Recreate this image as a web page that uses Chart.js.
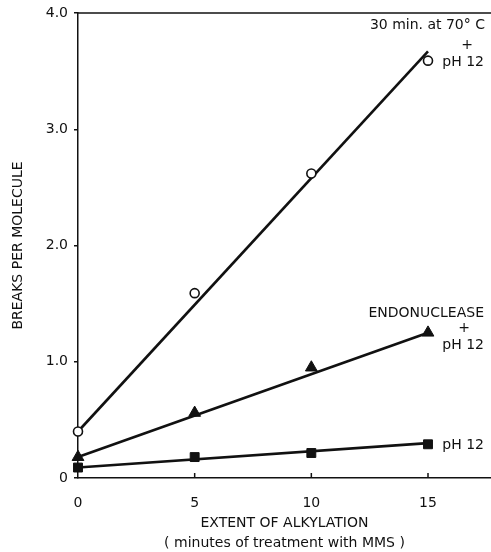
<!DOCTYPE html>
<html>
<head>
    <title>Breaks per molecule vs extent of alkylation</title>
    <script src="https://cdn.jsdelivr.net/npm/chart.js"></script>
    <style>
        html, body { margin: 0; background: #fff; overflow: hidden; }
        #wrap { width: 491px; height: 552px; }
        canvas { display: block; }
    </style>
</head>
<body>
    <div id="wrap"><canvas id="breaksChart" width="491" height="552"></canvas></div>

    <script>
        // minutes of MMS treatment
        const minutes = [0, 5, 10, 15];
        const xTicks = [0, 5, 10, 15];
        const yTicks = [0, 1, 2, 3, 4];
        const yTickLabels = ['0', '1.0', '2.0', '3.0', '4.0'];

        // measured points
        const heatPH12 = [0.40, 1.59, 2.62, 3.59];
        const endoPH12 = [0.18, 0.56, 0.95, 1.25];
        const onlyPH12 = [0.09, 0.18, 0.215, 0.29];

        // fitted lines (start at 0 min, end at 15 min)
        const fitX = [0, 15];
        const heatFit = [0.40, 3.67];
        const endoFit = [0.18, 1.25];
        const onlyFit = [0.09, 0.30];

        const ink = '#111';
        const fontFam = '"DejaVu Sans", sans-serif';

        const toPts = (xs, ys) => xs.map((x, i) => ({ x: x, y: ys[i] }));

        function fitLine(ys) {
            return {
                data: toPts(fitX, ys),
                showLine: true,
                borderColor: ink,
                borderWidth: 2.6,
                pointRadius: 0,
                order: 2
            };
        }

        const paperPlugin = {
            id: 'paper',
            afterDraw(chart) {
                const c = chart.ctx;
                const a = chart.chartArea;
                const xs = chart.scales.x;
                c.save();
                c.strokeStyle = ink;
                c.lineWidth = 1.5;
                // top frame line
                c.beginPath();
                c.moveTo(a.left, a.top);
                c.lineTo(a.right, a.top);
                c.stroke();
                // inward x ticks
                xTicks.slice(1).forEach(v => {
                    const px = xs.getPixelForValue(v);
                    c.beginPath();
                    c.moveTo(px, a.bottom);
                    c.lineTo(px, a.bottom - 5);
                    c.stroke();
                });

                c.fillStyle = ink;
                c.textBaseline = 'middle';
                // axis titles
                c.font = '14px ' + fontFam;
                c.textAlign = 'center';
                const mid = (a.left + a.right) / 2;
                c.fillText('EXTENT OF ALKYLATION', mid, 523);
                c.fillText('( minutes of treatment with MMS )', mid, 543);
                c.save();
                c.translate(18, (a.top + a.bottom) / 2);
                c.rotate(-Math.PI / 2);
                c.fillText('BREAKS PER MOLECULE', 0, 0);
                c.restore();

                // curve labels
                c.font = '14px ' + fontFam;
                c.textAlign = 'right';
                c.fillText('30 min. at 70° C', 485, 25);
                c.fillText('pH 12', 484, 62);
                c.fillText('ENDONUCLEASE', 484, 313);
                c.fillText('pH 12', 484, 345);
                c.fillText('pH 12', 484, 445);
                c.textAlign = 'center';
                c.fillText('+', 467, 45);
                c.fillText('+', 464, 328);
                c.restore();
            }
        };

        const ctx = document.getElementById('breaksChart').getContext('2d');
        const chart = new Chart(ctx, {
            type: 'scatter',
            data: {
                datasets: [
                    {
                        label: '30 min at 70° C + pH 12',
                        data: toPts(minutes, heatPH12),
                        pointStyle: 'circle',
                        pointRadius: 4.5,
                        pointBackgroundColor: '#fff',
                        pointBorderColor: ink,
                        pointBorderWidth: 1.6,
                        order: 1
                    },
                    {
                        label: 'Endonuclease + pH 12',
                        data: toPts(minutes, endoPH12),
                        pointStyle: 'triangle',
                        pointRadius: 6.8,
                        pointBackgroundColor: ink,
                        pointBorderColor: ink,
                        order: 1
                    },
                    {
                        label: 'pH 12',
                        data: toPts(minutes, onlyPH12),
                        pointStyle: 'rect',
                        pointRadius: 6.3,
                        pointBackgroundColor: ink,
                        pointBorderColor: ink,
                        order: 1
                    },
                    fitLine(heatFit),
                    fitLine(endoFit),
                    fitLine(onlyFit)
                ]
            },
            options: {
                responsive: false,
                animation: false,
                clip: false,
                layout: {
                    autoPadding: false,
                    padding: { top: 13, right: 0, left: 0, bottom: 0 }
                },
                plugins: {
                    legend: { display: false },
                    tooltip: { enabled: false }
                },
                scales: {
                    x: {
                        type: 'linear',
                        min: 0,
                        max: 17.7,
                        afterBuildTicks: s => { s.ticks = xTicks.map(v => ({ value: v })); },
                        afterFit: s => {
                            s.height = 74;
                            s.paddingLeft = 0;
                            s.paddingRight = 0;
                        },
                        grid: { display: false },
                        border: { display: true, color: ink, width: 1.5 },
                        ticks: {
                            color: ink,
                            padding: 9,
                            font: { family: fontFam, size: 14 },
                            maxRotation: 0
                        }
                    },
                    y: {
                        type: 'linear',
                        min: 0,
                        max: 4,
                        afterBuildTicks: s => { s.ticks = yTicks.map(v => ({ value: v })); },
                        afterFit: s => {
                            s.width = 78;
                            s.paddingTop = 0;
                            s.paddingBottom = 0;
                        },
                        grid: {
                            drawOnChartArea: false,
                            drawTicks: true,
                            tickLength: 4,
                            color: ink,
                            lineWidth: 1.5
                        },
                        border: { display: true, color: ink, width: 1.5 },
                        ticks: {
                            color: ink,
                            padding: 6,
                            font: { family: fontFam, size: 14 },
                            callback: (v) => yTickLabels[yTicks.indexOf(v)]
                        }
                    }
                }
            },
            plugins: [paperPlugin]
        });
    </script>
</body>
</html>
